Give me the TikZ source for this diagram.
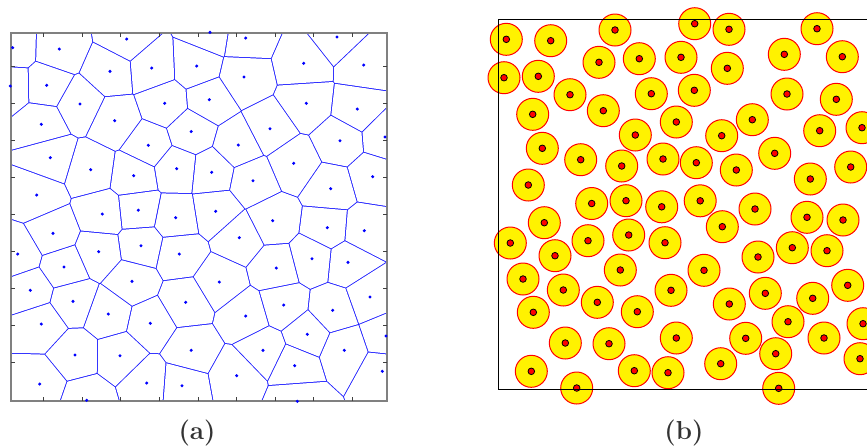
\documentclass[tikz,border=0pt]{standalone}
\usetikzlibrary{calc}

% generator points of panel (a), in pixels of the figure
\newcommand{\vorosites}{12.7/47.7, 59.3/49, 126.7/39, 10.3/86, 46.7/85.3, 110/71.3,
  151.7/68, 196.7/66, 80/104, 164.7/103.3, 41.3/124.3, 114.7/120.7, 191.2/131.5,
  148.3/145.3, 50.3/157.7, 90.7/169.7, 133.7/175.7, 176.7/168.7, 36.7/195, 138.3/210.2,
  210/32.3, 245.7/38, 337/37, 244/77, 303.7/63.3, 363.7/65, 209.3/99.7, 306.3/103.3,
  357.3/109, 270/128.7, 238.3/145, 340/140.7, 385/137, 211.7/172.3, 293.7/163.3,
  253/180.7, 372.7/176.7, 330.7/188.7, 102.3/214, 175.7/217.7, 53/233.3, 98.7/251.7,
  141/245.7, 179.3/254, 17.7/254, 64/267, 132/281.3, 30.3/290.3, 73/301.3, 185.7/302.3,
  108.3/314, 41.3/324, 150.3/323.3, 191.2/350.3, 75/355, 120/355.7, 39.7/384,
  146.7/383, 182/385.7, 86.7/400.3, 215.7/211.3, 272.7/220.7, 327.3/227.7, 364.3/230.7,
  239.3/237.7, 312/258.7, 348/262.3, 276.3/268, 219.3/282, 370/297, 283.7/305,
  332.7/310.3, 245.7/316, 307.3/334.3, 386/336, 263/350.3, 344.3/350.3, 294.7/365.7,
  382.3/371.3, 236.7/375.7, 297.3/401.3}
% disc centres of panel (b)
\newcommand{\packdiscs}{506.3/39.3, 550.7/40.7, 615/30, 504/77.7, 538.3/76.3, 599/62.3,
  639.3/58.7, 681/57.3, 570/94.7, 603.3/110.7, 651.3/93.7, 532.7/114.3, 676.3/122,
  635.3/135, 542.3/148.3, 580.7/159.7, 621.7/166, 663/159, 528.3/185, 591.7/203.5,
  626/200.7, 661.7/206.8, 544.3/222.7, 694.7/23.7, 729/29.3, 817/28.7, 727.3/68.3,
  784.3/54.3, 842.3/56.7, 694.3/90.3, 787/94, 836.3/99.3, 752.3/119.7, 721.7/135.7,
  819.7/130.7, 862/127.7, 774.7/153.3, 696.3/162.7, 736.3/170, 810.3/179, 850.7/167,
  700.2/200.8, 755/209, 807/217.3, 843/220, 510.3/243, 588/240.7, 628.7/235, 665/242.7,
  555/255.7, 620.3/270, 523/279, 563.3/290, 671/290.3, 597.3/302.3, 637.3/311.7,
  533.3/312.3, 565.3/343, 609/343.7, 676.3/338, 531.3/371.3, 634.3/370.7, 668/372.7,
  576.7/388, 722.3/226.7, 758/257, 792.3/247.7, 827/250.7, 704/270.3, 765.3/293.3,
  812.7/298.3, 847.7/285.3, 729.3/304, 788/321.7, 863/323.7, 745.7/338.3, 824/338,
  775.7/353.7, 720.7/363.7, 860/358.7, 778.7/388.3}

\begin{document}
\begin{tikzpicture}[
    x=0.5pt, y=-0.5pt,
    cellgap/.style={fill=blue!90!white},
    site/.style={fill=blue},
    axisline/.style={draw=black!50, line width=0.6pt},
    tick/.style={draw=black!75, line width=0.5pt},
    boxline/.style={draw=black, line width=0.5pt},
    disc/.style={fill=yellow, draw=red, line width=0.5pt},
    core/.style={fill=red, draw=black, line width=0.4pt},
    sublabel/.style={font=\fontsize{13}{15}\selectfont\bfseries, text=black!80},
]
\useasboundingbox (0,0) rectangle (867,447);
% --- panel (a): cells, a white face per site, gaps left blue ---
\begin{scope}
  \clip (11,33) rectangle (387,401);
  \fill[cellgap] (11,33) rectangle (387,401);
  \foreach \xa/\ya in \vorosites {
    \begin{scope}
      \foreach \xb/\yb in \vorosites {
        \pgfmathsetmacro{\dd}{((\xa-\xb)/100)^2+((\ya-\yb)/100)^2}
        \ifdim\dd pt>0.0001pt\ifdim\dd pt<1.3pt
          \pgfmathsetmacro{\ang}{atan2(\yb-\ya,\xa-\xb)}
          \clip[shift={({(\xa+\xb)/2},{(\ya+\yb)/2})}, rotate=\ang]
            (0.5,-500) rectangle (500,500);
        \fi\fi
      }
      \fill[white] (11,33) rectangle (387,401);
    \end{scope}
  }
\end{scope}
\draw[axisline] (11,33) rectangle (387,401);
\foreach \k in {0,...,8}{
  \pgfmathsetmacro{\tx}{43.5+38.63*\k}
  \pgfmathsetmacro{\ty}{66+37.1*\k}
  \draw[tick] (\tx,33) -- ++(0,4);
  \draw[tick] (\tx,401) -- ++(0,-4);
  \draw[tick] (11,\ty) -- ++(4,0);
  \draw[tick] (387,\ty) -- ++(-4,0);
}
\foreach \xa/\ya in \vorosites {\fill[site] (\xa,\ya) circle (1.7);}
% --- panel (b): packed discs ---
\foreach \cx/\cy in \packdiscs {
  \filldraw[disc] (\cx,\cy) circle (16);
  \filldraw[core] (\cx,\cy) circle (3.3);
}
\draw[boxline] (498,19) rectangle (868,389);
% --- captions ---
\node[sublabel] (capa) at (197,433) {(a)};
\node[sublabel] (capb) at (684,433) {(b)};
\end{tikzpicture}
\end{document}
